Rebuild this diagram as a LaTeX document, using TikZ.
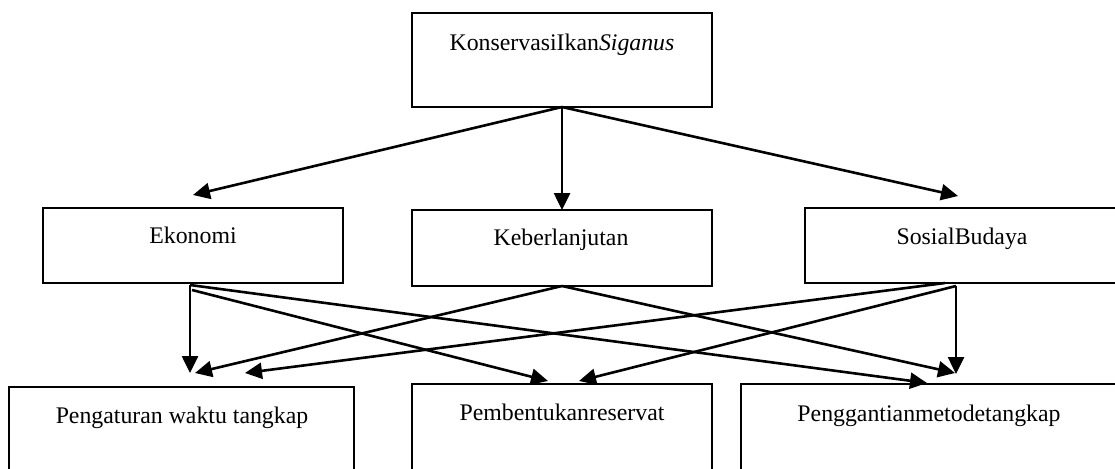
\documentclass[tikz,border=0pt]{standalone}
\usepackage{fontspec}
\setmainfont{Liberation Serif}
\usetikzlibrary{arrows.meta,calc}
\begin{document}
\begin{tikzpicture}[x=1pt,y=-1pt,
  box/.style={draw=black,line width=2pt,rectangle,inner sep=0pt,outer sep=0pt},
  lbl/.style={anchor=base,inner sep=0pt,font=\fontsize{23.8}{28}\selectfont},
  arr/.style={line width=2.6pt,-{Triangle[length=17pt,width=16pt]}}]
\useasboundingbox (0,0) rectangle (1115,468);
\clip (0,0) rectangle (1115,468);
% boxes
\node[box,minimum width=300pt,minimum height=94pt] (top) at (562,60) {};
\node[box,minimum width=300pt,minimum height=75pt] (eko) at (193,245.5) {};
\node[box,minimum width=300pt,minimum height=76pt] (keb) at (562,248) {};
\node[box,minimum width=314pt,minimum height=75pt] (sos) at (962,245.5) {};
\node[box,minimum width=345pt,minimum height=113pt] (pen) at (181.5,443.5) {};
\node[box,minimum width=300pt,minimum height=116pt] (pem) at (562,442) {};
\node[box,minimum width=376pt,minimum height=116pt] (peng) at (929,442) {};
% labels
\node[lbl] (ltop) at (562,51) {KonservasiIkan\textit{Siganus}};
\node[lbl] (leko) at (193,243) {Ekonomi};
\node[lbl] (lkeb) at (561,245) {Keberlanjutan};
\node[lbl] (lsos) at (962,244) {SosialBudaya};
\node[lbl] (lpen) at (182,423) {Pengaturan waktu tangkap};
\node[lbl] (lpem) at (562,420) {Pembentukanreservat};
\node[lbl] (lpeng) at (929,421) {Penggantianmetodetangkap};
% connector end points
\coordinate (ekoIn) at ($(eko.north)+(0,-13)$);
\coordinate (sosIn) at ($(sos.north)+(-4,-12)$);
\coordinate (ekoA) at ($(eko.south)+(-3,2)$);
\coordinate (ekoB) at ($(eko.south)+(-1,7)$);
\coordinate (sosA) at ($(sos.south)+(-17,0)$);
\coordinate (sosB) at ($(sos.south)+(-6,3)$);
\coordinate (penE) at ($(pen.north)+(8.5,-14)$);
\coordinate (penK) at ($(pen.north)+(13.5,-14)$);
\coordinate (penS) at ($(pen.north)+(63.5,-14)$);
\coordinate (pemE) at ($(pem.north)+(-14,-3)$);
\coordinate (pemS) at ($(pem.north)+(17,-3)$);
\coordinate (pengE) at ($(peng.north)+(-2,-1)$);
\coordinate (pengK) at ($(peng.north)+(26,-11)$);
\coordinate (pengS) at ($(peng.north)+(27,-10)$);
% connectors
\draw[arr] (top.south) -- (ekoIn);
\draw[arr] (top.south) -- (keb.north);
\draw[arr] (top.south) -- (sosIn);
\draw[arr] (ekoA) -- (penE);
\draw[arr] (ekoB) -- (pemE);
\draw[arr] (ekoA) -- (pengE);
\draw[arr] (keb.south) -- (penK);
\draw[arr] (keb.south) -- (pengK);
\draw[arr] (sosA) -- (penS);
\draw[arr] (sosB) -- (pemS);
\draw[arr] (sosB) -- (pengS);
\end{tikzpicture}
\end{document}
